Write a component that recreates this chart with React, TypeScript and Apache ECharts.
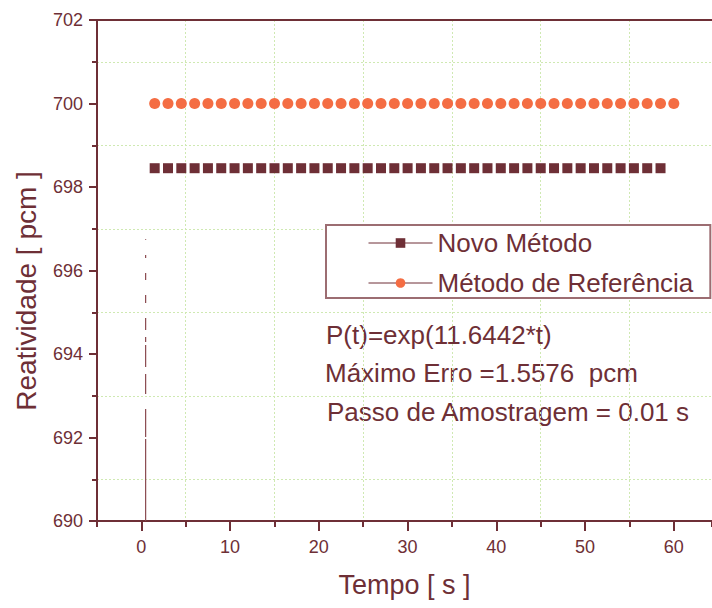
import React, { useEffect, useRef } from "react";
import * as echarts from "echarts";

// ---- data ----
const xMajorTicks = [0, 10, 20, 30, 40, 50, 60];
const yTicks = [690, 692, 694, 696, 698, 700, 702];

const novoX = [1.5, 3, 4.5, 6, 7.5, 9, 10.5, 12, 13.5, 15, 16.5, 18, 19.5, 21, 22.5, 24, 25.5, 27, 28.5, 30, 31.5, 33, 34.5, 36, 37.5, 39, 40.5, 42, 43.5, 45, 46.5, 48, 49.5, 51, 52.5, 54, 55.5, 57, 58.5];
const novoY = [698.45, 698.45, 698.45, 698.45, 698.45, 698.45, 698.45, 698.45, 698.45, 698.45, 698.45, 698.45, 698.45, 698.45, 698.45, 698.45, 698.45, 698.45, 698.45, 698.45, 698.45, 698.45, 698.45, 698.45, 698.45, 698.45, 698.45, 698.45, 698.45, 698.45, 698.45, 698.45, 698.45, 698.45, 698.45, 698.45, 698.45, 698.45, 698.45];

const refX = [1.5, 3, 4.5, 6, 7.5, 9, 10.5, 12, 13.5, 15, 16.5, 18, 19.5, 21, 22.5, 24, 25.5, 27, 28.5, 30, 31.5, 33, 34.5, 36, 37.5, 39, 40.5, 42, 43.5, 45, 46.5, 48, 49.5, 51, 52.5, 54, 55.5, 57, 58.5, 60];
const refY = [700, 700, 700, 700, 700, 700, 700, 700, 700, 700, 700, 700, 700, 700, 700, 700, 700, 700, 700, 700, 700, 700, 700, 700, 700, 700, 700, 700, 700, 700, 700, 700, 700, 700, 700, 700, 700, 700, 700, 700];

const curveT = [0.48, 0.48];
const curveP = [690, 696.75];

const seriesNames = ["Novo Método", "Método de Referência"];
const annotations = ["P(t)=exp(11.6442*t)", "Máximo Erro =1.5576  pcm", "Passo de Amostragem = 0.01 s"];

const MAROON = "#6e2f36";
const ORANGE = "#f46d43";
const GREEN = "#cfe9b2";
const FONT = '"Liberation Sans", Arial, sans-serif';

const X_MIN = -5;
const X_MAX = 64.3;

export default function App() {
  const ref = useRef<HTMLDivElement>(null);

  useEffect(() => {
    if (!ref.current) return;
    const chart = echarts.init(ref.current, undefined, { renderer: "svg" });
    const zip = (a: number[], b: number[]) => a.map((v, i) => [v, b[i]]);

    const option: any = {
      animation: false,
      backgroundColor: "#ffffff",
      grid: { left: 97, right: 0, top: 20, bottom: 87, containLabel: false },
      xAxis: [
        {
          type: "value",
          position: "bottom",
          min: X_MIN,
          max: X_MAX,
          interval: 10,
          axisLine: { show: true, onZero: false, lineStyle: { color: MAROON, width: 2 } },
          axisTick: { show: true, length: 6, lineStyle: { color: MAROON, width: 2 } },
          axisLabel: { show: false },
          splitLine: {
            show: true,
            showMinLine: false,
            showMaxLine: false,
            lineStyle: { color: GREEN, width: 1, type: [2, 2] },
          },
        },
        {
          type: "value",
          position: "bottom",
          min: X_MIN,
          max: X_MAX,
          axisLine: { show: false },
          axisTick: { show: true, length: 10, customValues: xMajorTicks, lineStyle: { color: MAROON, width: 2 } },
          axisLabel: {
            show: true,
            customValues: xMajorTicks,
            margin: 17,
            color: MAROON,
            fontSize: 18,
            fontFamily: FONT,
          },
          splitLine: { show: false },
          name: "Tempo [ s ]",
          nameLocation: "middle",
          nameGap: 50,
          nameTextStyle: { color: MAROON, fontSize: 27, fontFamily: FONT },
        },
        {
          type: "value",
          position: "top",
          min: X_MIN,
          max: X_MAX,
          axisLine: { show: true, onZero: false, lineStyle: { color: MAROON, width: 2 } },
          axisTick: { show: false },
          axisLabel: { show: false },
          splitLine: { show: false },
        },
      ],
      yAxis: [
        {
          type: "value",
          position: "left",
          min: yTicks[0],
          max: yTicks[yTicks.length - 1],
          interval: 2,
          axisLine: { show: true, onZero: false, lineStyle: { color: MAROON, width: 2 } },
          axisTick: { show: true, length: 8, lineStyle: { color: MAROON, width: 2 } },
          minorTick: { show: true, splitNumber: 2, length: 5, lineStyle: { color: MAROON, width: 2 } },
          minorSplitLine: { show: true, lineStyle: { color: GREEN, width: 1, type: [2, 2] } },
          splitLine: { show: false },
          axisLabel: { show: true, margin: 14, color: MAROON, fontSize: 18, fontFamily: FONT },
        },
      ],
      legend: {
        show: true,
        data: seriesNames,
        orient: "vertical",
        left: 326,
        top: 225,
        padding: [4, 17, 1, 42],
        itemGap: 12,
        itemWidth: 64,
        itemHeight: 12,
        backgroundColor: "#ffffff",
        borderColor: "#9c6d72",
        borderWidth: 2,
        borderRadius: 0,
        textStyle: { color: MAROON, fontSize: 26, fontFamily: FONT, lineHeight: 28 },
        lineStyle: { color: MAROON, width: 1, opacity: 1 },
        selectedMode: false,
      },
      graphic: [
        {
          type: "text",
          x: 26,
          y: 291,
          rotation: Math.PI / 2,
          style: {
            text: "Reatividade [ pcm ]",
            fill: MAROON,
            font: `28px ${FONT}`,
            align: "center",
            verticalAlign: "middle",
          },
        },
        {
          type: "text",
          x: 326,
          y: 335,
          style: { text: annotations[0], fill: MAROON, font: `26px ${FONT}`, verticalAlign: "middle" },
        },
        {
          type: "text",
          x: 325,
          y: 373,
          style: { text: annotations[1], fill: MAROON, font: `26px ${FONT}`, verticalAlign: "middle" },
        },
        {
          type: "text",
          x: 327,
          y: 412,
          style: { text: annotations[2], fill: MAROON, font: `26px ${FONT}`, verticalAlign: "middle" },
        },
      ],
      series: [
        {
          name: "curve",
          type: "line",
          xAxisIndex: 0,
          yAxisIndex: 0,
          data: zip(curveT, curveP),
          showSymbol: false,
          symbol: "none",
          lineStyle: {
            color: "#8a4a50",
            width: 1.2,
            type: [82, 2, 28, 15, 20, 7, 22, 3, 5, 7, 12, 15, 8, 15, 7, 15, 3, 15, 2, 40],
          },
          silent: true,
          z: 1,
        },
        {
          name: seriesNames[0],
          type: "line",
          xAxisIndex: 0,
          yAxisIndex: 0,
          data: zip(novoX, novoY),
          symbol: "rect",
          symbolSize: 10,
          showSymbol: true,
          showAllSymbol: true,
          itemStyle: { color: MAROON },
          lineStyle: { color: MAROON, width: 1, opacity: 0 },
          z: 3,
        },
        {
          name: seriesNames[1],
          type: "line",
          xAxisIndex: 0,
          yAxisIndex: 0,
          data: zip(refX, refY),
          symbol: "circle",
          symbolSize: 11,
          showSymbol: true,
          showAllSymbol: true,
          itemStyle: { color: ORANGE },
          lineStyle: { color: ORANGE, width: 1, opacity: 0 },
          z: 3,
        },
      ],
    };

    chart.setOption(option);
    return () => {
      chart.dispose();
    };
  }, []);

  return (
    <div
      ref={ref}
      style={{ position: "absolute", left: 0, top: 0, width: 712, height: 608, background: "#fff" }}
    />
  );
}
